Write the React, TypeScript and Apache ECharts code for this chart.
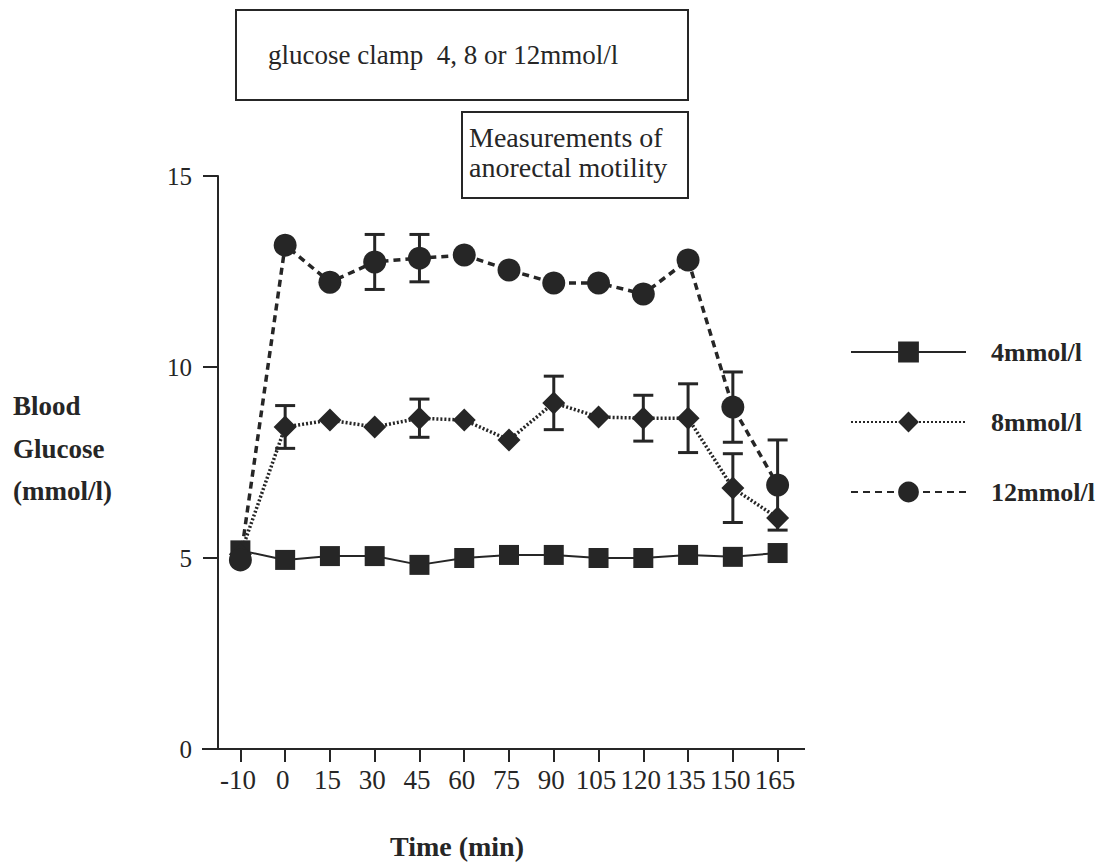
import React, { useEffect, useRef } from "react";
import * as echarts from "echarts";

const categories = ["-10", "0", "15", "30", "45", "60", "75", "90", "105", "120", "135", "150", "165"];
const seriesNames = ["4mmol/l", "8mmol/l", "12mmol/l"];
const glucose4 = [5.2, 4.95, 5.05, 5.05, 4.82, 5.0, 5.08, 5.08, 5.0, 5.0, 5.08, 5.03, 5.13];
const glucose8 = [5.1, 8.43, 8.61, 8.43, 8.66, 8.61, 8.09, 9.06, 8.69, 8.66, 8.66, 6.83, 6.05];
const glucose12 = [4.95, 13.19, 12.22, 12.75, 12.85, 12.93, 12.54, 12.2, 12.2, 11.91, 12.8, 8.95, 6.91];
const sem8 = [0, 0.56, 0, 0, 0.5, 0, 0, 0.7, 0, 0.6, 0.9, 0.9, 0];
const sem12 = [0, 0, 0, 0.72, 0.62, 0, 0, 0, 0, 0, 0, 0.92, 1.18];
const yTicks = [0, 5, 10, 15];

const INK = "#262626";
const SERIF = "'Liberation Serif', 'DejaVu Serif', serif";

function errData(values: number[], sem: number[]) {
  const out: number[][] = [];
  values.forEach((v, i) => {
    if (sem[i] > 0) out.push([i, v - sem[i], v + sem[i]]);
  });
  return out;
}

function errorSeries(name: string, values: number[], sem: number[]) {
  return {
    type: "custom",
    name: name + "-err",
    z: 1,
    silent: true,
    encode: { x: 0, y: [1, 2] },
    data: errData(values, sem),
    renderItem: (params: any, api: any) => {
      const x = api.value(0);
      const lo = api.coord([x, api.value(1)]);
      const hi = api.coord([x, api.value(2)]);
      const half = 10;
      const style = { stroke: INK, lineWidth: 3 };
      return {
        type: "group",
        children: [
          { type: "line", shape: { x1: lo[0], y1: lo[1], x2: hi[0], y2: hi[1] }, style },
          { type: "line", shape: { x1: lo[0] - half, y1: lo[1], x2: lo[0] + half, y2: lo[1] }, style },
          { type: "line", shape: { x1: hi[0] - half, y1: hi[1], x2: hi[0] + half, y2: hi[1] }, style },
        ],
      };
    },
  };
}

export default function App() {
  const ref = useRef<HTMLDivElement>(null);
  useEffect(() => {
    if (!ref.current) return;
    const chart = echarts.init(ref.current, null, { renderer: "svg" });
    const option: any = {
      animation: false,
      backgroundColor: "#ffffff",
      textStyle: { fontFamily: SERIF, color: INK },
      grid: { left: 218, top: 176, width: 582, height: 573 },
      legend: {
        orient: "vertical",
        left: 845,
        top: 334,
        itemWidth: 115,
        itemHeight: 26,
        itemGap: 44,
        selectedMode: false,
        data: seriesNames,
        textStyle: { fontFamily: SERIF, fontWeight: "bold", fontSize: 26, color: INK, padding: [0, 0, 0, 20] },
      },
      xAxis: {
        type: "category",
        data: categories,
        boundaryGap: true,
        axisLine: { show: false },
        axisTick: { show: true, alignWithLabel: true, length: 13, lineStyle: { color: INK, width: 2 } },
        axisLabel: { fontFamily: SERIF, fontSize: 27, color: INK, margin: 17, interval: 0, padding: [0, 5, 0, 0] },
        splitLine: { show: false },
      },
      yAxis: {
        type: "value",
        min: yTicks[0],
        max: yTicks[yTicks.length - 1],
        interval: 5,
        axisLine: { show: true, lineStyle: { color: INK, width: 2 } },
        axisTick: { show: true, length: 15, lineStyle: { color: INK, width: 2 } },
        axisLabel: { fontFamily: SERIF, fontSize: 25, color: INK, margin: 26 },
        splitLine: { show: false },
      },
      graphic: [
        { type: "line", shape: { x1: 202, y1: 749, x2: 805, y2: 749 }, style: { stroke: INK, lineWidth: 2 } },
        { type: "rect", shape: { x: 236, y: 10, width: 452, height: 90 }, style: { fill: "none", stroke: INK, lineWidth: 2 } },
        { type: "text", x: 268, y: 55, style: { text: "glucose clamp  4, 8 or 12mmol/l", font: `27px ${SERIF}`, fill: INK, textVerticalAlign: "middle" } },
        { type: "rect", shape: { x: 462, y: 112, width: 226, height: 86 }, style: { fill: "none", stroke: INK, lineWidth: 2 } },
        { type: "text", x: 469, y: 137, style: { text: "Measurements of", font: `28px ${SERIF}`, fill: INK, textVerticalAlign: "middle" } },
        { type: "text", x: 469, y: 167, style: { text: "anorectal motility", font: `28px ${SERIF}`, fill: INK, textVerticalAlign: "middle" } },
        { type: "text", x: 13, y: 406, style: { text: "Blood", font: `bold 27px ${SERIF}`, fill: INK, textVerticalAlign: "middle" } },
        { type: "text", x: 13, y: 449, style: { text: "Glucose", font: `bold 27px ${SERIF}`, fill: INK, textVerticalAlign: "middle" } },
        { type: "text", x: 13, y: 491, style: { text: "(mmol/l)", font: `bold 27px ${SERIF}`, fill: INK, textVerticalAlign: "middle" } },
        { type: "text", x: 457, y: 846, style: { text: "Time (min)", font: `bold 28px ${SERIF}`, fill: INK, textAlign: "center", textVerticalAlign: "middle" } },
      ],
      series: [
        errorSeries(seriesNames[1], glucose8, sem8),
        errorSeries(seriesNames[2], glucose12, sem12),
        {
          type: "line",
          name: seriesNames[0],
          data: glucose4,
          z: 3,
          symbol: "rect",
          symbolSize: 20,
          itemStyle: { color: INK, borderWidth: 0 },
          lineStyle: { color: INK, width: 2, type: "solid" },
        },
        {
          type: "line",
          name: seriesNames[1],
          data: glucose8,
          z: 3,
          symbol: "diamond",
          symbolSize: 23,
          itemStyle: { color: INK, borderWidth: 0 },
          lineStyle: { color: INK, width: 3.5, type: [2, 2] },
        },
        {
          type: "line",
          name: seriesNames[2],
          data: glucose12,
          z: 3,
          symbol: "circle",
          symbolSize: 23,
          itemStyle: { color: INK, borderWidth: 0 },
          lineStyle: { color: INK, width: 3.5, type: [7, 5] },
        },
      ],
    };
    chart.setOption(option);
    return () => chart.dispose();
  }, []);
  return (
    <div
      ref={ref}
      style={{ position: "fixed", left: 0, top: 0, width: 1117, height: 865, background: "#fff" }}
    />
  );
}
